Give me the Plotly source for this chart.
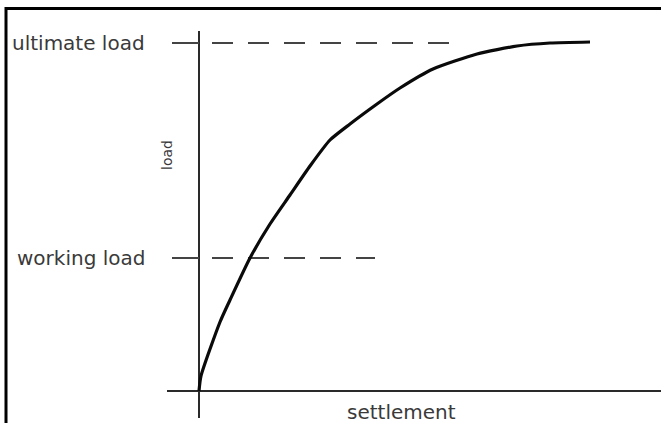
import plotly.graph_objects as go

# Load-settlement curve (arbitrary units: settlement to the right, load upward)
settlement = [0, 2, 21, 31, 51, 71, 91, 111, 131, 151, 178, 201, 234, 278, 318, 351, 391]
load = [0, 15, 69, 91, 133, 167, 196, 225, 251, 267, 287, 303, 322, 337, 345, 348, 349]

ultimate_load = 348
working_load = 133
ultimate_dash_end = 253
working_dash_end = 176

labels = ["ultimate load", "working load"]
x_title = "settlement"
y_title = "load"

ink = "#2a2a2a"
fig = go.Figure()

# axes
fig.add_trace(go.Scatter(x=[0, 0], y=[-27, 360], mode="lines",
                         line=dict(color=ink, width=2), hoverinfo="skip"))
fig.add_trace(go.Scatter(x=[-32, 462], y=[0, 0], mode="lines",
                         line=dict(color=ink, width=2), hoverinfo="skip"))

# reference load lines
for lvl, end in [(ultimate_load, ultimate_dash_end), (working_load, working_dash_end)]:
    fig.add_trace(go.Scatter(x=[-27, 0], y=[lvl, lvl], mode="lines",
                             line=dict(color="#444", width=2), hoverinfo="skip"))
    fig.add_trace(go.Scatter(x=[13, end], y=[lvl, lvl], mode="lines",
                             line=dict(color="#444", width=2, dash="21px,15px"),
                             hoverinfo="skip"))

# curve
fig.add_trace(go.Scatter(x=settlement, y=load, mode="lines",
                         line=dict(color="#0a0a0a", width=3.2, shape="spline", smoothing=0.6),
                         hoverinfo="skip"))

font = dict(family="DejaVu Sans", size=20, color="#3a3a3a")
for lab, lvl in zip(labels, [ultimate_load, working_load]):
    fig.add_annotation(x=-52, y=lvl, text=lab, showarrow=False, xanchor="right",
                       yanchor="middle", font=font)
fig.add_annotation(x=202, y=-21, text=x_title, showarrow=False, xanchor="center",
                   yanchor="middle", font=font)
fig.add_annotation(x=-32, y=236, text=y_title, showarrow=False, textangle=-90,
                   xanchor="center", yanchor="middle",
                   font=dict(family="DejaVu Sans", size=14, color="#3a3a3a"))

# frame (top and left edges)
fig.add_shape(type="line", xref="paper", yref="paper", x0=5/661, x1=1,
              y0=1 - 8.5/423, y1=1 - 8.5/423, line=dict(color="black", width=3))
fig.add_shape(type="line", xref="paper", yref="paper", x0=6/661, x1=6/661,
              y0=0, y1=1 - 7/423, line=dict(color="black", width=3))

fig.update_layout(
    width=661, height=423, margin=dict(l=0, r=0, t=0, b=0),
    showlegend=False, plot_bgcolor="white", paper_bgcolor="white",
    xaxis=dict(range=[-199, 462], visible=False, showgrid=False, zeroline=False),
    yaxis=dict(range=[-32, 391], visible=False, showgrid=False, zeroline=False),
)

fig.write_html("out.html", config={"displayModeBar": False},
               post_script="document.body.style.margin='0';document.body.style.overflow='hidden';")
